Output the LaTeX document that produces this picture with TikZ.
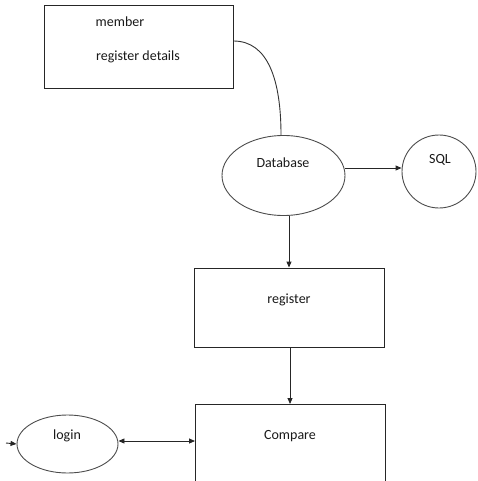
\documentclass[tikz,border=0pt]{standalone}
\usepackage{fontspec}
\setmainfont{Carlito}
\usetikzlibrary{arrows.meta,shapes.geometric}
\begin{document}
\begin{tikzpicture}[x=1pt,y=-1pt,
  every node/.style={font=\fontsize{14}{16}\selectfont, text=black!90},
  boxs/.style={draw=black!85, line width=0.9pt, inner sep=0pt},
  ell/.style={draw=black!70, line width=0.9pt, ellipse, inner sep=0pt},
  arr/.style={draw=black!85, line width=0.9pt, -{Triangle[length=6pt,width=5pt]}},
  line/.style={draw=black!80, line width=0.9pt}]
\useasboundingbox (0,0) rectangle (478,481);
% member box
\node[boxs, minimum width=189pt, minimum height=83pt] (mem) at (138.5,46.5) {};
\node (memt) at (120,22) {member};
\node (regd) at (138,57) {register details};
% database
\node[ell, minimum width=123pt, minimum height=80pt] (db) at (283.5,175.5) {};
\node (dbt) at (283,163) {Database};
% SQL
\node[ell, minimum width=74pt, minimum height=73pt] (sql) at (439,171.5) {};
\node (sqlt) at (440,160) {SQL};
% register box
\node[boxs, minimum width=190pt, minimum height=79pt] (reg) at (289,307.5) {};
\node (regt) at (289,300) {register};
% compare box (cut off at bottom)
\coordinate (cmpnw) at (195,404);
\coordinate (cmpne) at (385,404);
\coordinate (cmpsw) at (195,482);
\coordinate (cmpse) at (385,482);
\coordinate (cmpn) at (290,404);
\coordinate (cmpw) at (195,441);
\draw[line, draw=black!85] (cmpsw) -- (cmpnw) -- (cmpne) -- (cmpse);
\node (cmpt) at (290,436) {Compare};
% login
\node[ell, minimum width=101pt, minimum height=58pt] (login) at (67.5,444) {};
\node (logt) at (67,436) {login};
\coordinate (lin) at (6,443);
% connectors
\draw[line] (mem.east |- 0,41) .. controls (268,41) and (281,80) .. (db.north -| 281,0);
\draw[arr] (db.east |- 0,168) -- (sql.west |- 0,168);
\draw[arr] (reg.north |- db.south) -- (reg.north);
\draw[arr] (reg.south -| cmpn) -- (cmpn);
\draw[arr] (lin) -- (login.west);
\draw[arr, {Triangle[length=6pt,width=5pt]}-{Triangle[length=6pt,width=5pt]}] (login.east |- cmpw) -- (cmpw);
\end{tikzpicture}
\end{document}
